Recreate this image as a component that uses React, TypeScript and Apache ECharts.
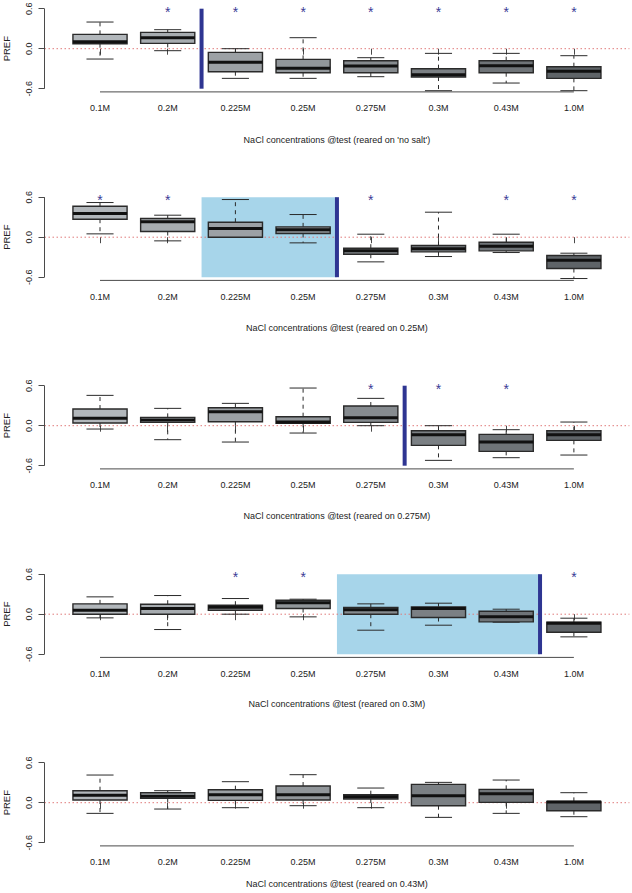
import React, { useEffect, useRef } from 'react';
import * as echarts from 'echarts';

// ---------- data ----------
const categories = ['0.1M', '0.2M', '0.225M', '0.25M', '0.275M', '0.3M', '0.43M', '1.0M'];
const yTickValues = [-0.6, 0, 0.6];
const rearedOn = ["'no salt'", '0.25M', '0.275M', '0.3M', '0.43M'];

// each row: [lower whisker, Q1, median, Q3, upper whisker] per category
const panel1Stats = [
  [-0.155, 0.075, 0.105, 0.215, 0.4],
  [-0.03, 0.08, 0.165, 0.245, 0.285],
  [-0.445, -0.345, -0.205, -0.055, 0.0],
  [-0.445, -0.36, -0.295, -0.16, 0.165],
  [-0.42, -0.36, -0.26, -0.18, -0.135],
  [-0.63, -0.425, -0.39, -0.3, -0.07],
  [-0.515, -0.36, -0.255, -0.18, -0.07],
  [-0.63, -0.445, -0.34, -0.27, -0.105],
];
const panel2Stats = [
  [0.05, 0.27, 0.355, 0.465, 0.52],
  [-0.055, 0.085, 0.23, 0.28, 0.33],
  [0.0, 0.0, 0.13, 0.225, 0.565],
  [-0.085, 0.055, 0.11, 0.155, 0.34],
  [-0.37, -0.255, -0.205, -0.165, 0.045],
  [-0.29, -0.22, -0.175, -0.125, 0.375],
  [-0.23, -0.205, -0.135, -0.075, 0.045],
  [-0.62, -0.47, -0.345, -0.275, -0.24],
];
const panel3Stats = [
  [-0.05, 0.04, 0.11, 0.25, 0.455],
  [-0.21, 0.05, 0.085, 0.125, 0.26],
  [-0.245, 0.06, 0.21, 0.27, 0.335],
  [-0.11, 0.035, 0.055, 0.135, 0.565],
  [0.0, 0.05, 0.12, 0.295, 0.41],
  [-0.52, -0.295, -0.135, -0.075, 0.0],
  [-0.48, -0.385, -0.245, -0.13, -0.06],
  [-0.44, -0.22, -0.135, -0.075, 0.055],
];
const panel4Stats = [
  [-0.055, 0.0, 0.06, 0.155, 0.26],
  [-0.23, 0.0, 0.085, 0.15, 0.28],
  [0.0, 0.06, 0.105, 0.135, 0.235],
  [-0.04, 0.085, 0.17, 0.21, 0.225],
  [-0.24, 0.0, 0.065, 0.1, 0.155],
  [-0.165, -0.05, 0.085, 0.11, 0.165],
  [-0.12, -0.115, -0.04, 0.045, 0.075],
  [-0.34, -0.27, -0.135, -0.12, -0.06],
];
const panel5Stats = [
  [-0.16, 0.04, 0.11, 0.18, 0.415],
  [-0.095, 0.065, 0.095, 0.15, 0.18],
  [-0.075, 0.035, 0.12, 0.195, 0.315],
  [-0.045, 0.04, 0.12, 0.25, 0.42],
  [-0.075, 0.055, 0.09, 0.12, 0.22],
  [-0.22, -0.045, 0.105, 0.275, 0.305],
  [-0.16, 0.005, 0.135, 0.2, 0.34],
  [-0.21, -0.12, 0.01, 0.02, 0.15],
];

const panel1Stars = ['0.2M', '0.225M', '0.25M', '0.275M', '0.3M', '0.43M', '1.0M'];
const panel2Stars = ['0.1M', '0.2M', '0.275M', '0.43M', '1.0M'];
const panel3Stars = ['0.275M', '0.3M', '0.43M'];
const panel4Stars = ['0.225M', '0.25M', '1.0M'];
const panel5Stars: string[] = [];

// boundaries between categories (1-based positions)
const panel1Dividers = [2.5];
const panel2Dividers = [4.5];
const panel3Dividers = [5.5];
const panel4Dividers = [7.5];
const panel5Dividers: number[] = [];

const panel2Shade = [[2.5, 4.5]];
const panel4Shade = [[4.5, 7.5]];

// ---------- styles ----------
const boxColors = ['#b2b7bb', '#a7acb0', '#9ca1a5', '#91969a', '#868b8f', '#7b8084', '#6f7478', '#5f6468'];
const FONT = '"Liberation Sans", Arial, Helvetica, sans-serif';
const TEXT = '#222';
const AXIS = '#4a4a4a';

const panels = [
  { stats: panel1Stats, stars: panel1Stars, dividers: panel1Dividers, shade: [] as number[][] },
  { stats: panel2Stats, stars: panel2Stars, dividers: panel2Dividers, shade: panel2Shade },
  { stats: panel3Stats, stars: panel3Stars, dividers: panel3Dividers, shade: [] as number[][] },
  { stats: panel4Stats, stars: panel4Stars, dividers: panel4Dividers, shade: panel4Shade },
  { stats: panel5Stats, stars: panel5Stars, dividers: panel5Dividers, shade: [] as number[][] },
];

const X_MIN = 0.18;
const X_MAX = 8.82;
const Y_MIN = -0.648;
const Y_MAX = 0.648;
const GRID_LEFT = 44.5;
const GRID_WIDTH = 584.9;
const GRID_HEIGHT = 86.4;
const ZERO_Y0 = 48.7;
const PANEL_STEP = 188.5;
const titleGaps = [43.5, 43, 42.5, 42, 34];

function renderBox(params: any, api: any) {
  const x = api.value(0);
  const lo = api.value(1);
  const q1 = api.value(2);
  const med = api.value(3);
  const q3 = api.value(4);
  const hi = api.value(5);
  const band = api.size([1, 0])[0];
  const bw = band * 0.8;
  const half = bw / 2;
  const capHalf = bw / 4;
  const c = api.coord([x, lo]);
  const cx = c[0];
  const yLo = c[1];
  const yQ1 = api.coord([x, q1])[1];
  const yMed = api.coord([x, med])[1];
  const yQ3 = api.coord([x, q3])[1];
  const yHi = api.coord([x, hi])[1];
  const fill = boxColors[params.dataIndex];
  const whisk = { stroke: '#2a2a2a', lineWidth: 1, lineDash: [4, 4] };
  const cap = { stroke: '#2a2a2a', lineWidth: 1 };
  return {
    type: 'group',
    children: [
      { type: 'line', shape: { x1: cx, y1: yQ3, x2: cx, y2: yHi }, style: whisk },
      { type: 'line', shape: { x1: cx, y1: yQ1, x2: cx, y2: yLo }, style: whisk },
      { type: 'line', shape: { x1: cx - capHalf, y1: yHi, x2: cx + capHalf, y2: yHi }, style: cap },
      { type: 'line', shape: { x1: cx - capHalf, y1: yLo, x2: cx + capHalf, y2: yLo }, style: cap },
      {
        type: 'rect',
        shape: { x: cx - half, y: yQ3, width: bw, height: Math.max(yQ1 - yQ3, 0.5) },
        style: { fill, stroke: '#2a2a2a', lineWidth: 1.4 },
      },
      { type: 'line', shape: { x1: cx - half, y1: yMed, x2: cx + half, y2: yMed }, style: { stroke: '#111', lineWidth: 3 } },
    ],
  };
}

function renderStar(params: any, api: any) {
  const p = api.coord([api.value(0), api.value(1)]);
  return {
    type: 'text',
    x: p[0],
    y: p[1] + 3.2,
    style: {
      text: '*',
      fill: '#3a3a96',
      fontSize: 14,
      fontFamily: FONT,
      align: 'center',
      verticalAlign: 'middle',
    },
  };
}

function renderShade(params: any, api: any) {
  const a = api.coord([api.value(0), 0.6]);
  const b = api.coord([api.value(1), -0.6]);
  return {
    type: 'rect',
    shape: { x: a[0], y: a[1], width: b[0] - a[0], height: b[1] - a[1] },
    style: { fill: '#a7d5ea' },
  };
}

function buildOption() {
  const grid: any[] = [];
  const xAxis: any[] = [];
  const yAxis: any[] = [];
  const series: any[] = [];
  const ticksX = categories.map((_, i) => i + 1);

  panels.forEach((p, i) => {
    const zeroY = ZERO_Y0 + PANEL_STEP * i;
    grid.push({
      left: GRID_LEFT,
      top: zeroY - GRID_HEIGHT / 2,
      width: GRID_WIDTH,
      height: GRID_HEIGHT,
      containLabel: false,
      outerBoundsMode: 'none',
    });
    xAxis.push({
      type: 'value',
      gridIndex: i,
      min: X_MIN,
      max: X_MAX,
      axisLine: { show: false },
      splitLine: { show: false },
      axisTick: { show: true, customValues: ticksX, length: 6, lineStyle: { color: AXIS, width: 1 } },
      axisLabel: {
        show: true,
        customValues: ticksX,
        formatter: (v: number) => categories[Math.round(v) - 1] ?? '',
        margin: 12,
        fontSize: 9,
        fontFamily: FONT,
        color: TEXT,
      },
      name: `NaCl concentrations @test (reared on ${rearedOn[i]})`,
      nameLocation: 'middle',
      nameGap: titleGaps[i],
      nameTextStyle: { fontSize: 9, fontFamily: FONT, color: TEXT },
    });
    yAxis.push({
      type: 'value',
      gridIndex: i,
      min: Y_MIN,
      max: Y_MAX,
      axisLine: { show: false },
      splitLine: { show: false },
      axisTick: { show: true, customValues: yTickValues, length: 6, lineStyle: { color: AXIS, width: 1 } },
      axisLabel: {
        show: true,
        customValues: yTickValues,
        rotate: 90,
        margin: 11,
        formatter: (v: number) => v.toFixed(1),
        fontSize: 9,
        fontFamily: FONT,
        color: TEXT,
      },
      name: 'PREF',
      nameLocation: 'middle',
      nameGap: 33,
      nameRotate: 90,
      nameTextStyle: { fontSize: 9.5, fontFamily: FONT, color: TEXT },
    });

    // shaded region
    if (p.shade.length) {
      series.push({
        type: 'custom',
        xAxisIndex: i,
        yAxisIndex: i,
        z: 1,
        silent: true,
        clip: false,
        renderItem: renderShade,
        data: p.shade,
      });
    }
    // zero reference line
    series.push({
      type: 'line',
      xAxisIndex: i,
      yAxisIndex: i,
      z: 2,
      silent: true,
      clip: false,
      symbol: 'none',
      lineStyle: { color: '#e07a7a', width: 1, type: [1.5, 2.5] },
      data: [[X_MIN, 0], [X_MAX, 0]],
    });
    // x axis line (first to last tick)
    series.push({
      type: 'line',
      xAxisIndex: i,
      yAxisIndex: i,
      z: 2,
      silent: true,
      clip: false,
      symbol: 'none',
      lineStyle: { color: AXIS, width: 1 },
      data: [[1, Y_MIN], [categories.length, Y_MIN]],
    });
    // y axis line (first to last tick)
    series.push({
      type: 'line',
      xAxisIndex: i,
      yAxisIndex: i,
      z: 2,
      silent: true,
      clip: false,
      symbol: 'none',
      lineStyle: { color: AXIS, width: 1 },
      data: [[X_MIN, yTickValues[0]], [X_MIN, yTickValues[yTickValues.length - 1]]],
    });
    // boxes
    series.push({
      type: 'custom',
      xAxisIndex: i,
      yAxisIndex: i,
      z: 3,
      silent: true,
      clip: false,
      renderItem: renderBox,
      data: p.stats.map((s, k) => [k + 1, ...s]),
    });
    // dividers
    p.dividers.forEach((d) => {
      series.push({
        type: 'line',
        xAxisIndex: i,
        yAxisIndex: i,
        z: 4,
        silent: true,
        clip: false,
        symbol: 'none',
        lineStyle: { color: '#2e3592', width: 4, cap: 'butt' },
        data: [[d, yTickValues[0]], [d, yTickValues[yTickValues.length - 1]]],
      });
    });
    // stars
    if (p.stars.length) {
      series.push({
        type: 'custom',
        xAxisIndex: i,
        yAxisIndex: i,
        z: 5,
        silent: true,
        clip: false,
        renderItem: renderStar,
        data: p.stars.map((s) => [categories.indexOf(s) + 1, 0.6]),
      });
    }
  });

  return { animation: false, grid, xAxis, yAxis, series };
}

export default function App() {
  const ref = useRef<HTMLDivElement>(null);
  useEffect(() => {
    if (!ref.current) return;
    const chart = echarts.init(ref.current, null, { renderer: 'svg' });
    chart.setOption(buildOption() as any);
    return () => chart.dispose();
  }, []);
  return (
    <div
      ref={ref}
      style={{ position: 'absolute', left: 0, top: 0, width: 632, height: 893, background: '#fff' }}
    />
  );
}
